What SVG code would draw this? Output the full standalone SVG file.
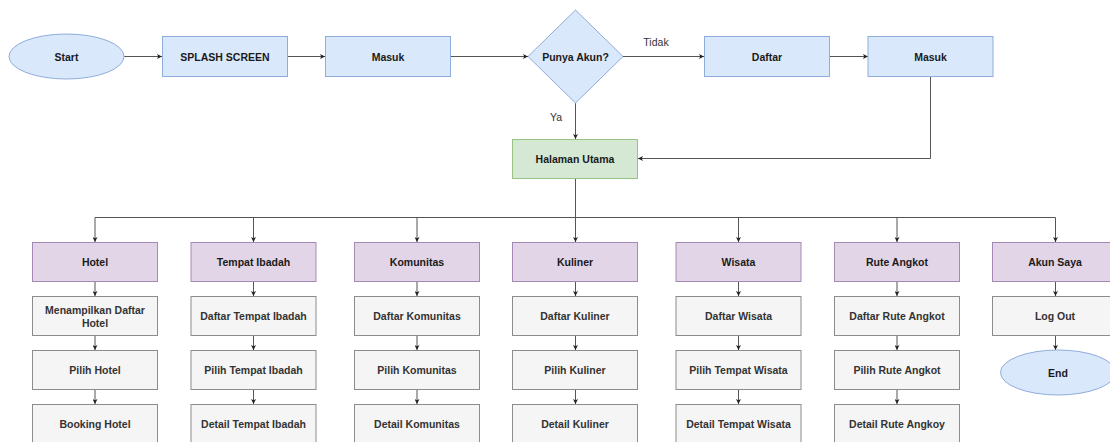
<svg xmlns="http://www.w3.org/2000/svg" width="1110" height="442" viewBox="0 0 1110 442">
<defs>
<marker id="arr" viewBox="0 0 6 6" refX="6" refY="3" markerWidth="5" markerHeight="5" markerUnits="userSpaceOnUse" orient="auto">
<path d="M0,0 L6,3 L0,6 L1.5,3 Z" fill="#222"/>
</marker>
<style>
text{font-family:"Liberation Sans",Arial,sans-serif;font-size:10.5px;text-anchor:middle;dominant-baseline:central}
.b{font-weight:bold;fill:#1a1a1a}
.g{font-weight:bold;fill:#333}
.lbl{fill:#333}
.blue{fill:#dae8fc;stroke:#8eaddb;stroke-width:1}
.green{fill:#d5e8d4;stroke:#97c384;stroke-width:1}
.purple{fill:#e1d5e7;stroke:#a58ab5;stroke-width:1}
.gray{fill:#f5f5f5;stroke:#8c8c8c;stroke-width:1}
.c{fill:none;stroke:#555;stroke-width:1}
.ca{fill:none;stroke:#555;stroke-width:1;marker-end:url(#arr)}
</style>
</defs>
<rect width="1110" height="442" fill="#ffffff"/>
<g id="connectors">
<path class="ca" d="M124,56.5 H162"/>
<path class="ca" d="M287.5,56.5 H325"/>
<path class="ca" d="M450.5,56.5 H528"/>
<path class="ca" d="M623,56.5 H704"/>
<path class="ca" d="M830,56.5 H868"/>
<path class="ca" d="M575.5,103 V139"/>
<path class="ca" d="M930.5,76.5 V158.5 H638"/>
<path class="c" d="M575.5,178.5 V217.5 M95,217.5 H1055.5"/>
<path class="ca" d="M95,217.5 V242"/>
<path class="ca" d="M253.5,217.5 V242"/>
<path class="ca" d="M417,217.5 V242"/>
<path class="ca" d="M575.5,217.5 V242"/>
<path class="ca" d="M738.5,217.5 V242"/>
<path class="ca" d="M897,217.5 V242"/>
<path class="ca" d="M1055.5,217.5 V242"/>
<path class="ca" d="M95,281.5 V296"/>
<path class="ca" d="M95,335.5 V350"/>
<path class="ca" d="M95,389.5 V404"/>
<path class="ca" d="M253.5,281.5 V296"/>
<path class="ca" d="M253.5,335.5 V350"/>
<path class="ca" d="M253.5,389.5 V404"/>
<path class="ca" d="M417,281.5 V296"/>
<path class="ca" d="M417,335.5 V350"/>
<path class="ca" d="M417,389.5 V404"/>
<path class="ca" d="M575.5,281.5 V296"/>
<path class="ca" d="M575.5,335.5 V350"/>
<path class="ca" d="M575.5,389.5 V404"/>
<path class="ca" d="M738.5,281.5 V296"/>
<path class="ca" d="M738.5,335.5 V350"/>
<path class="ca" d="M738.5,389.5 V404"/>
<path class="ca" d="M897,281.5 V296"/>
<path class="ca" d="M897,335.5 V350"/>
<path class="ca" d="M897,389.5 V404"/>
<path class="ca" d="M1055.5,281.5 V296"/>
<path class="ca" d="M1055.5,335.5 V350"/>
<text class="lbl" x="656" y="42">Tidak</text>
<text class="lbl" x="556" y="117">Ya</text>
</g>
<g id="start"><ellipse class="blue" cx="66.5" cy="56.5" rx="57.5" ry="22.5"/><text class="b" x="66.5" y="56.5">Start</text></g>
<g id="splash"><rect class="blue" x="162.5" y="36.5" width="125" height="40"/><text class="b" x="225" y="56.5">SPLASH SCREEN</text></g>
<g id="masuk1"><rect class="blue" x="325.5" y="36.5" width="125" height="40"/><text class="b" x="388" y="56.5">Masuk</text></g>
<g id="punya-akun"><polygon class="blue" points="575.5,10 623,56.5 575.5,103 528,56.5"/><text class="b" x="575.5" y="56.5">Punya Akun?</text></g>
<g id="daftar"><rect class="blue" x="704.5" y="36.5" width="125" height="40"/><text class="b" x="767" y="56.5">Daftar</text></g>
<g id="masuk2"><rect class="blue" x="868" y="36.5" width="125" height="40"/><text class="b" x="930.5" y="56.5">Masuk</text></g>
<g id="halaman-utama"><rect class="green" x="512.5" y="139.5" width="125" height="39"/><text class="b" x="575" y="159">Halaman Utama</text></g>

<g id="hotel"><rect class="purple" x="32.5" y="242.5" width="125" height="39"/><text class="b" x="95" y="262">Hotel</text></g>
<g id="hotel-1"><rect class="gray" x="32.5" y="296.5" width="125" height="39"/><text class="g" x="95" y="309.5">Menampilkan Daftar</text><text class="g" x="95" y="322.5">Hotel</text></g>
<g id="hotel-2"><rect class="gray" x="32.5" y="350.5" width="125" height="39"/><text class="g" x="95" y="370">Pilih Hotel</text></g>
<g id="hotel-3"><rect class="gray" x="32.5" y="404.5" width="125" height="39"/><text class="g" x="95" y="424">Booking Hotel</text></g>

<g id="ibadah"><rect class="purple" x="191" y="242.5" width="125" height="39"/><text class="b" x="253.5" y="262">Tempat Ibadah</text></g>
<g id="ibadah-1"><rect class="gray" x="191" y="296.5" width="125" height="39"/><text class="g" x="253.5" y="316">Daftar Tempat Ibadah</text></g>
<g id="ibadah-2"><rect class="gray" x="191" y="350.5" width="125" height="39"/><text class="g" x="253.5" y="370">Pilih Tempat Ibadah</text></g>
<g id="ibadah-3"><rect class="gray" x="191" y="404.5" width="125" height="39"/><text class="g" x="253.5" y="424">Detail Tempat Ibadah</text></g>

<g id="komunitas"><rect class="purple" x="354.5" y="242.5" width="125" height="39"/><text class="b" x="417" y="262">Komunitas</text></g>
<g id="komunitas-1"><rect class="gray" x="354.5" y="296.5" width="125" height="39"/><text class="g" x="417" y="316">Daftar Komunitas</text></g>
<g id="komunitas-2"><rect class="gray" x="354.5" y="350.5" width="125" height="39"/><text class="g" x="417" y="370">Pilih Komunitas</text></g>
<g id="komunitas-3"><rect class="gray" x="354.5" y="404.5" width="125" height="39"/><text class="g" x="417" y="424">Detail Komunitas</text></g>

<g id="kuliner"><rect class="purple" x="512.5" y="242.5" width="125" height="39"/><text class="b" x="575" y="262">Kuliner</text></g>
<g id="kuliner-1"><rect class="gray" x="512.5" y="296.5" width="125" height="39"/><text class="g" x="575" y="316">Daftar Kuliner</text></g>
<g id="kuliner-2"><rect class="gray" x="512.5" y="350.5" width="125" height="39"/><text class="g" x="575" y="370">Pilih Kuliner</text></g>
<g id="kuliner-3"><rect class="gray" x="512.5" y="404.5" width="125" height="39"/><text class="g" x="575" y="424">Detail Kuliner</text></g>

<g id="wisata"><rect class="purple" x="676" y="242.5" width="125" height="39"/><text class="b" x="738.5" y="262">Wisata</text></g>
<g id="wisata-1"><rect class="gray" x="676" y="296.5" width="125" height="39"/><text class="g" x="738.5" y="316">Daftar Wisata</text></g>
<g id="wisata-2"><rect class="gray" x="676" y="350.5" width="125" height="39"/><text class="g" x="738.5" y="370">Pilih Tempat Wisata</text></g>
<g id="wisata-3"><rect class="gray" x="676" y="404.5" width="125" height="39"/><text class="g" x="738.5" y="424">Detail Tempat Wisata</text></g>

<g id="rute"><rect class="purple" x="834.5" y="242.5" width="125" height="39"/><text class="b" x="897" y="262">Rute Angkot</text></g>
<g id="rute-1"><rect class="gray" x="834.5" y="296.5" width="125" height="39"/><text class="g" x="897" y="316">Daftar Rute Angkot</text></g>
<g id="rute-2"><rect class="gray" x="834.5" y="350.5" width="125" height="39"/><text class="g" x="897" y="370">Pilih Rute Angkot</text></g>
<g id="rute-3"><rect class="gray" x="834.5" y="404.5" width="125" height="39"/><text class="g" x="897" y="424">Detail Rute Angkoy</text></g>

<g id="akun"><rect class="purple" x="992.5" y="242.5" width="125" height="39"/><text class="b" x="1055" y="262">Akun Saya</text></g>
<g id="logout"><rect class="gray" x="992.5" y="296.5" width="125" height="39"/><text class="g" x="1055" y="316">Log Out</text></g>
<g id="end"><ellipse class="blue" cx="1058" cy="372.5" rx="57.5" ry="22.5"/><text class="b" x="1058" y="372.5">End</text></g>
</svg>
